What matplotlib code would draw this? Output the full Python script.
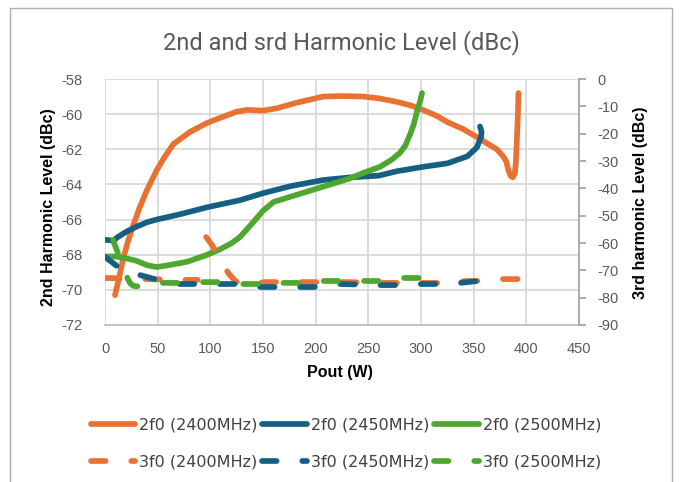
import numpy as np
import matplotlib
matplotlib.use("Agg")
import matplotlib.pyplot as plt
from matplotlib.patches import Rectangle

# ---------------- data ----------------
nan = np.nan
title = "2nd and srd Harmonic Level (dBc)"
x_label = "Pout (W)"
y_label_left = "2nd Harmonic Level (dBc)"
y_label_right = "3rd harmonic Level (dBc)"

# 2nd harmonic (left axis)
w_2f0_2400 = [9.5, 13, 17, 22, 27, 33, 40, 49, 57, 65, 81, 97, 112, 125, 135, 150, 163, 182,
              207, 226, 245, 260, 277, 290, 302, 315, 325, 340, 353, 365, 372, 378, 381,
              383, 385, 387, 389, 390, 391, 392, 392.5]
v_2f0_2400 = [-70.3, -69.4, -68.3, -67.2, -66.3, -65.3, -64.3, -63.2, -62.4, -61.7, -61.0,
              -60.5, -60.15, -59.86, -59.76, -59.8, -59.67, -59.35, -59.0, -58.97, -59.0,
              -59.1, -59.3, -59.5, -59.76, -60.1, -60.45, -60.85, -61.3, -61.75, -62.0,
              -62.4, -62.7, -63.2, -63.5, -63.6, -63.4, -62.8, -61.5, -60.0, -58.8]

w_2f0_2450 = [0, 8, 12, 20, 30, 40, 49, 71, 97, 128, 150, 176, 207, 233, 260, 277, 302, 325,
              344, 353, 357, 357.5, 356]
v_2f0_2450 = [-67.15, -67.2, -67.0, -66.7, -66.4, -66.15, -66.0, -65.7, -65.3, -64.9, -64.5,
              -64.1, -63.75, -63.6, -63.5, -63.25, -63.0, -62.8, -62.4, -61.9, -61.3, -61.0,
              -60.7]

w_2f0_2500 = [0, 10, 20, 30, 40, 49, 60, 78, 95, 109, 120, 128, 140, 150, 160, 176, 195, 214,
              233, 245, 261, 272, 280, 285, 290, 293, 296, 299, 301]
v_2f0_2500 = [-68.1, -68.1, -68.2, -68.35, -68.6, -68.7, -68.6, -68.4, -68.05, -67.7, -67.35,
              -67.0, -66.2, -65.5, -65.0, -64.7, -64.35, -64.0, -63.65, -63.35, -63.0, -62.6,
              -62.2, -61.8, -61.1, -60.6, -59.9, -59.3, -58.8]

# 3rd harmonic (right axis)
w_3f0_2400 = [0, 14, 40, 70, 88, nan, 96, 102, 107, 117, 124, 131, 140, 152, 168, 188, 206,
              226, 242, 261, 283, 301, 321, 344, 359, 378, 394]
v_3f0_2400 = [-72.8, -72.9, -73.2, -73.5, -73.5, nan, -57.8, -61.0, -64.4, -71.0, -74.0,
              -75.5, -75.0, -74.3, -74.3, -74.3, -74.3, -74.3, -74.4, -74.6, -74.6, -74.6,
              -74.6, -73.9, -73.9, -73.2, -73.2]

w_3f0_2450 = [0, 14, 33, 50, 71, 88, 109, 127, 149, 164, 185, 202, 222, 242, 261, 280, 299,
              318, 337, 354]
v_3f0_2450 = [-65.1, -69.2, -71.7, -73.5, -75.0, -75.0, -75.0, -75.0, -76.1, -76.1, -76.1,
              -76.1, -75.0, -75.2, -75.4, -75.4, -75.0, -75.0, -74.6, -73.9]

w_3f0_2500 = [7.6, 14, 20.6, 23.8, 27, 35, 55, 73, 92, 111, 130, 149, 168, 187, 206, 225,
              244, 263, 283, 301]
v_3f0_2500 = [-58.9, -65.5, -72.3, -74.7, -75.7, -76.0, -74.6, -74.6, -74.3, -74.3, -75.0,
              -75.0, -74.6, -74.6, -73.9, -73.9, -73.9, -73.9, -72.8, -72.8]

labels_2f0 = ["2f0 (2400MHz)", "2f0 (2450MHz)", "2f0 (2500MHz)"]
labels_3f0 = ["3f0 (2400MHz)", "3f0 (2450MHz)", "3f0 (2500MHz)"]
colors = ["#E97132", "#156082", "#4EA72E"]

x_ticks = [0, 50, 100, 150, 200, 250, 300, 350, 400, 450]
yl_ticks = [-58, -60, -62, -64, -66, -68, -70, -72]
yr_ticks = [0, -10, -20, -30, -40, -50, -60, -70, -80, -90]

# ---------------- figure ----------------
plt.rcParams["lines.scale_dashes"] = False
W, H = 682, 482
fig = plt.figure(figsize=(W / 100, H / 100), dpi=100)
fig.patch.set_facecolor("white")
fig.patches.append(Rectangle((10 / W, -0.05), 662 / W, 1 - 8 / H + 0.05,
                             transform=fig.transFigure, fill=False,
                             edgecolor="#b0b0b0", lw=1.0))

L, R, T, B = 105, 579, 79, 325
ax = fig.add_axes([L / W, 1 - B / H, (R - L) / W, (B - T) / H])
ax2 = ax.twinx()

lw = 4.1
dash = (0, (10.5, 18.5))

h2 = []
for wv, vv, c, lab in zip([w_2f0_2400, w_2f0_2450, w_2f0_2500],
                          [v_2f0_2400, v_2f0_2450, v_2f0_2500], colors, labels_2f0):
    ln, = ax.plot(wv, vv, color=c, lw=lw, solid_capstyle="round",
                  solid_joinstyle="round", label=lab)
    h2.append(ln)
h3 = []
for wv, vv, c, lab in zip([w_3f0_2400, w_3f0_2450, w_3f0_2500],
                          [v_3f0_2400, v_3f0_2450, v_3f0_2500], colors, labels_3f0):
    ln, = ax2.plot(wv, vv, color=c, lw=lw, linestyle=dash, dash_capstyle="round",
                   dash_joinstyle="round", label=lab)
    h3.append(ln)

tick_font = dict(family="Liberation Sans", size=10.5, color="#595959")
ax.set_xlim(0, 450)
ax.set_ylim(-72, -58)
ax.set_xticks(x_ticks)
ax.set_yticks(yl_ticks)
ax.set_xticklabels([str(t) for t in x_ticks], **tick_font)
ax.set_yticklabels([str(t) for t in yl_ticks], **tick_font)
ax.grid(True, color="#d9d9d9", lw=1.3)
ax.set_axisbelow(True)
ax.tick_params(axis="x", length=0, pad=12)
ax.tick_params(axis="y", length=0, pad=16)
for s in ["top", "right", "left"]:
    ax.spines[s].set_visible(False)
ax.spines["bottom"].set_color("#bfbfbf")
ax.spines["bottom"].set_linewidth(1.3)

ax2.set_ylim(-90, 0)
ax2.set_yticks(yr_ticks)
ax2.set_yticklabels([str(t) for t in yr_ticks], **tick_font)
ax2.tick_params(axis="y", length=5, width=1.3, color="#a6a6a6", pad=8)
for s in ["top", "left", "bottom"]:
    ax2.spines[s].set_visible(False)
ax2.spines["right"].set_color("#a6a6a6")
ax2.spines["right"].set_linewidth(1.3)

lab_font = dict(family="Liberation Sans", size=11.5, weight="bold", color="black")
fig.text(340 / W, 1 - 372 / H, x_label, ha="center", va="center", **lab_font)
fig.text(49 / W, 1 - 207 / H, y_label_left, ha="center", va="center", rotation=90, **lab_font)
fig.text(640 / W, 1 - 203 / H, y_label_right, ha="center", va="center", rotation=90, **lab_font)

fig.text(341 / W, 1 - 43 / H, title, ha="center", va="center",
         family="Roboto", size=17, color="#595959")

handles = [h2[0], h3[0], h2[1], h3[1], h2[2], h3[2]]
leg = fig.legend(handles=handles, labels=[h.get_label() for h in handles], ncol=3,
                 loc="center", bbox_to_anchor=(346 / W, 1 - 443.5 / H), frameon=False,
                 prop=dict(family="DejaVu Sans", size=11.5), handlelength=2.8,
                 handletextpad=0.25, columnspacing=0.3, labelspacing=1.35,
                 labelcolor="#404040")

fig.savefig("out.png", dpi=100, facecolor="white")
